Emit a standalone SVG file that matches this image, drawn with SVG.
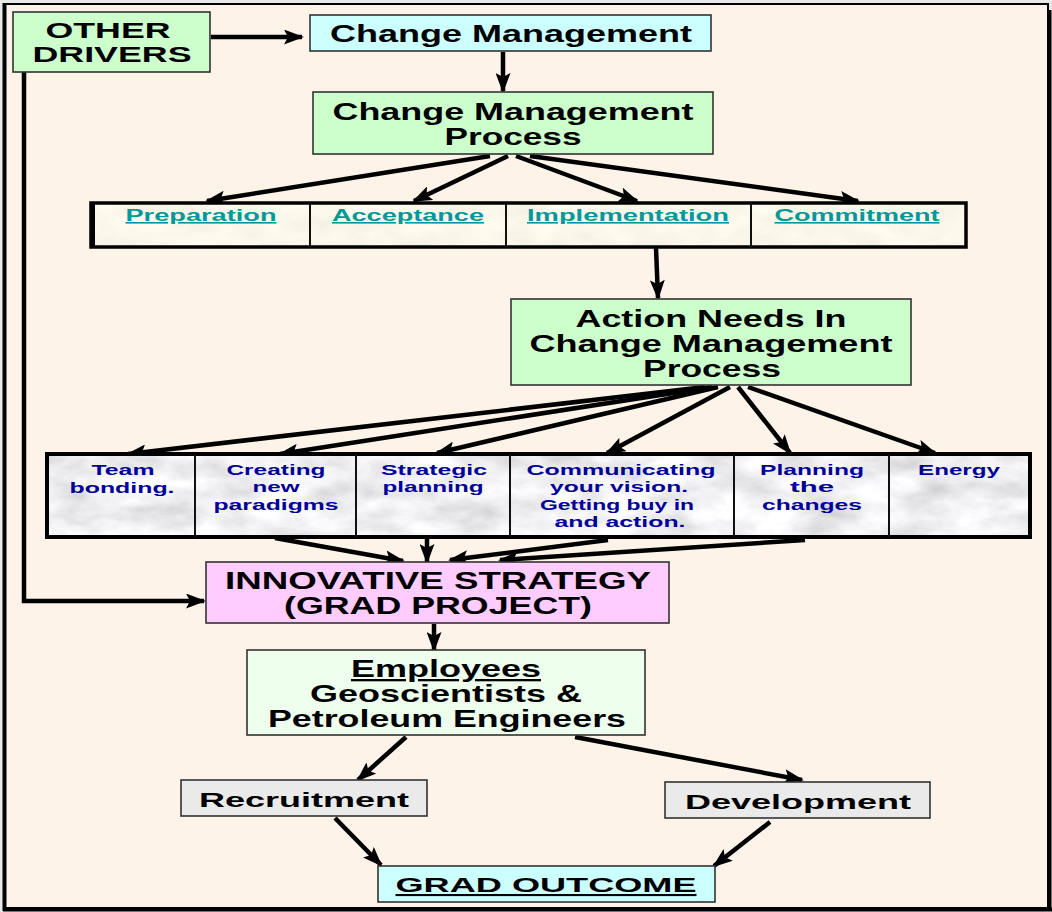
<svg xmlns="http://www.w3.org/2000/svg" width="1052" height="912" viewBox="0 0 1052 912">
  <defs>
    <style>
      .bx { stroke: #333; stroke-width: 1.6; }
      .green { fill: #CCFFCC; }
      .cyan { fill: #CCFFFF; }
      .pink { fill: #FFCCFF; }
      .pale { fill: #EEFFEE; }
      .grey { fill: #EAEAEA; }
      .t { font-family: "Liberation Sans", Arial, sans-serif; font-weight: bold; fill: #000; text-anchor: middle; }
      .big { font-size: 23px; }
      .stage { font-size: 16px; fill: #009999; text-decoration: underline; }
      .act { font-size: 15.5px; fill: #000099; }
      .con { fill: none; stroke: #000; stroke-width: 4.5; marker-end: url(#ah); }
      .cell { fill: none; stroke: #111; stroke-width: 2; }
    </style>
    <marker id="ah" markerUnits="userSpaceOnUse" markerWidth="21" markerHeight="15" refX="18" refY="7.5" orient="auto">
      <path d="M0,0 L20,7.5 L0,15 L4,7.5 z" fill="#000"/>
    </marker>
    <!-- parchment texture for the stage row -->
    <filter id="parch" x="0" y="0" width="1" height="1">
      <feTurbulence type="fractalNoise" baseFrequency="0.03 0.06" numOctaves="4" seed="3"/>
      <feColorMatrix type="matrix" values="0.14 0 0 0 0.90  0.14 0 0 0 0.86  0.16 0 0 0 0.75  0 0 0 0 1"/>
    </filter>
    <!-- marble texture for the action row -->
    <filter id="marble" x="0" y="0" width="1" height="1">
      <feTurbulence type="fractalNoise" baseFrequency="0.02 0.04" numOctaves="5" seed="7"/>
      <feColorMatrix type="matrix" values="0.6 0 0 0 0.58  0.6 0 0 0 0.58  0.6 0 0 0 0.60  0 0 0 0 1"/>
    </filter>
  </defs>

  <!-- page -->
  <rect x="0" y="0" width="1052" height="912" fill="#E8E8E8"/>
  <rect x="5" y="4" width="1043" height="904" fill="#FEF3E9" stroke="#000" stroke-width="2"/>
  <line x1="4.5" y1="3" x2="4.5" y2="911" stroke="#000" stroke-width="4"/>
  <line x1="1049.5" y1="10" x2="1049.5" y2="911" stroke="#000" stroke-width="4"/>
  <line x1="3" y1="909.5" x2="1052" y2="909.5" stroke="#000" stroke-width="4"/>

  <!-- connectors -->
  <g id="connectors">
    <path class="con" d="M211,37 H302"/>
    <path class="con" d="M503,52 V91"/>
    <path class="con" d="M490,156 L207,201"/>
    <path class="con" d="M508,156 L414,201"/>
    <path class="con" d="M516,156 L637,201"/>
    <path class="con" d="M530,156 L858,201"/>
    <path class="con" d="M656,248 L658,298"/>
    <path class="con" d="M705,387 L128,454"/>
    <path class="con" d="M712,387 L280,454"/>
    <path class="con" d="M718,387 L437,453"/>
    <path class="con" d="M730,387 L607,453"/>
    <path class="con" d="M738,387 L790,453"/>
    <path class="con" d="M748,387 L935,453"/>
    <path class="con" d="M275,538 L403,561"/>
    <path class="con" d="M427,538 V562"/>
    <path class="con" d="M608,540 L450,560"/>
    <path class="con" d="M805,540 L500,560"/>
    <path class="con" d="M24,72 V601 H204"/>
    <path class="con" d="M434,624 V650"/>
    <path class="con" d="M406,737 L358,780"/>
    <path class="con" d="M575,737 L802,780"/>
    <path class="con" d="M335,818 L381,865"/>
    <path class="con" d="M770,822 L714,866"/>
  </g>

  <g id="other-drivers">
    <rect class="bx green" x="13" y="12" width="197" height="60"/>
    <text class="t" x="108" y="38" font-size="22" textLength="125" lengthAdjust="spacingAndGlyphs">OTHER</text>
    <text class="t" x="112" y="62" font-size="22" textLength="159" lengthAdjust="spacingAndGlyphs">DRIVERS</text>
  </g>

  <g id="change-management">
    <rect class="bx cyan" x="310" y="15" width="401" height="36"/>
    <text class="t big" x="511" y="42" textLength="362" lengthAdjust="spacingAndGlyphs">Change Management</text>
  </g>

  <g id="change-management-process">
    <rect class="bx green" x="313" y="92" width="400" height="62"/>
    <text class="t big" x="513" y="120" textLength="361" lengthAdjust="spacingAndGlyphs">Change Management</text>
    <text class="t big" x="513" y="145" textLength="137" lengthAdjust="spacingAndGlyphs">Process</text>
  </g>

  <g id="stages">
    <rect x="91" y="203" width="875" height="44" fill="#F8EEDA" filter="url(#parch)"/>
    <rect x="91" y="203" width="875" height="44" fill="none" stroke="#000" stroke-width="3.5"/>
    <line x1="93" y1="203" x2="93" y2="247" stroke="#000" stroke-width="4"/>
    <line class="cell" x1="310" y1="203" x2="310" y2="247"/>
    <line class="cell" x1="506" y1="203" x2="506" y2="247"/>
    <line class="cell" x1="751" y1="203" x2="751" y2="247"/>
    <g id="preparation"><text class="t stage" x="201" y="221" textLength="151" lengthAdjust="spacingAndGlyphs">Preparation</text></g>
    <g id="acceptance"><text class="t stage" x="408" y="221" textLength="152" lengthAdjust="spacingAndGlyphs">Acceptance</text></g>
    <g id="implementation"><text class="t stage" x="628" y="221" textLength="202" lengthAdjust="spacingAndGlyphs">Implementation</text></g>
    <g id="commitment"><text class="t stage" x="857" y="221" textLength="165" lengthAdjust="spacingAndGlyphs">Commitment</text></g>
  </g>

  <g id="action-needs">
    <rect class="bx green" x="511" y="299" width="400" height="86"/>
    <text class="t big" x="711" y="327" textLength="271" lengthAdjust="spacingAndGlyphs">Action Needs In</text>
    <text class="t big" x="711" y="352" textLength="363" lengthAdjust="spacingAndGlyphs">Change Management</text>
    <text class="t big" x="712" y="377" textLength="138" lengthAdjust="spacingAndGlyphs">Process</text>
  </g>

  <g id="actions">
    <rect x="47" y="454" width="983" height="83" fill="#E2E2E6" filter="url(#marble)"/>
    <rect x="47" y="454" width="983" height="83" fill="none" stroke="#000" stroke-width="4"/>
    <line class="cell" x1="195" y1="454" x2="195" y2="537"/>
    <line class="cell" x1="356" y1="454" x2="356" y2="537"/>
    <line class="cell" x1="510" y1="454" x2="510" y2="537"/>
    <line class="cell" x1="734" y1="454" x2="734" y2="537"/>
    <line class="cell" x1="889" y1="454" x2="889" y2="537"/>
    <g id="team-bonding">
      <text class="t act" x="123" y="475" textLength="63" lengthAdjust="spacingAndGlyphs">Team</text>
      <text class="t act" x="122" y="493" textLength="105" lengthAdjust="spacingAndGlyphs">bonding.</text>
    </g>
    <g id="new-paradigms">
      <text class="t act" x="276" y="475" textLength="99" lengthAdjust="spacingAndGlyphs">Creating</text>
      <text class="t act" x="276" y="492" textLength="47" lengthAdjust="spacingAndGlyphs">new</text>
      <text class="t act" x="276" y="510" textLength="125" lengthAdjust="spacingAndGlyphs">paradigms</text>
    </g>
    <g id="strategic-planning">
      <text class="t act" x="434" y="475" textLength="106" lengthAdjust="spacingAndGlyphs">Strategic</text>
      <text class="t act" x="433" y="492" textLength="101" lengthAdjust="spacingAndGlyphs">planning</text>
    </g>
    <g id="communicating">
      <text class="t act" x="621" y="475" textLength="189" lengthAdjust="spacingAndGlyphs">Communicating</text>
      <text class="t act" x="619" y="492" textLength="138" lengthAdjust="spacingAndGlyphs">your vision.</text>
      <text class="t act" x="617" y="510" textLength="154" lengthAdjust="spacingAndGlyphs">Getting buy in</text>
      <text class="t act" x="620" y="527" textLength="131" lengthAdjust="spacingAndGlyphs">and action.</text>
    </g>
    <g id="planning-changes">
      <text class="t act" x="812" y="475" textLength="104" lengthAdjust="spacingAndGlyphs">Planning</text>
      <text class="t act" x="812" y="492" textLength="44" lengthAdjust="spacingAndGlyphs">the</text>
      <text class="t act" x="812" y="510" textLength="100" lengthAdjust="spacingAndGlyphs">changes</text>
    </g>
    <g id="energy">
      <text class="t act" x="959" y="475" textLength="82" lengthAdjust="spacingAndGlyphs">Energy</text>
    </g>
  </g>

  <g id="innovative-strategy">
    <rect class="bx pink" x="206" y="562" width="463" height="61"/>
    <text class="t big" x="438" y="589" textLength="426" lengthAdjust="spacingAndGlyphs">INNOVATIVE STRATEGY</text>
    <text class="t big" x="438" y="614" textLength="308" lengthAdjust="spacingAndGlyphs">(GRAD PROJECT)</text>
  </g>

  <g id="employees">
    <rect class="bx pale" x="247" y="650" width="398" height="85"/>
    <text class="t big" x="446" y="677" textLength="190" lengthAdjust="spacingAndGlyphs" text-decoration="underline">Employees</text>
    <text class="t big" x="446" y="702" textLength="272" lengthAdjust="spacingAndGlyphs">Geoscientists &amp;</text>
    <text class="t big" x="447" y="727" textLength="358" lengthAdjust="spacingAndGlyphs">Petroleum Engineers</text>
  </g>

  <g id="recruitment">
    <rect class="bx grey" x="181" y="780" width="246" height="36"/>
    <text class="t" x="304" y="807" font-size="21" textLength="210" lengthAdjust="spacingAndGlyphs">Recruitment</text>
  </g>

  <g id="development">
    <rect class="bx grey" x="665" y="782" width="265" height="36"/>
    <text class="t" x="798" y="809" font-size="21" textLength="226" lengthAdjust="spacingAndGlyphs">Development</text>
  </g>

  <g id="grad-outcome">
    <rect class="bx cyan" x="378" y="866" width="337" height="36"/>
    <text class="t" x="546" y="892" font-size="21" textLength="301" lengthAdjust="spacingAndGlyphs" text-decoration="underline">GRAD OUTCOME</text>
  </g>
</svg>
